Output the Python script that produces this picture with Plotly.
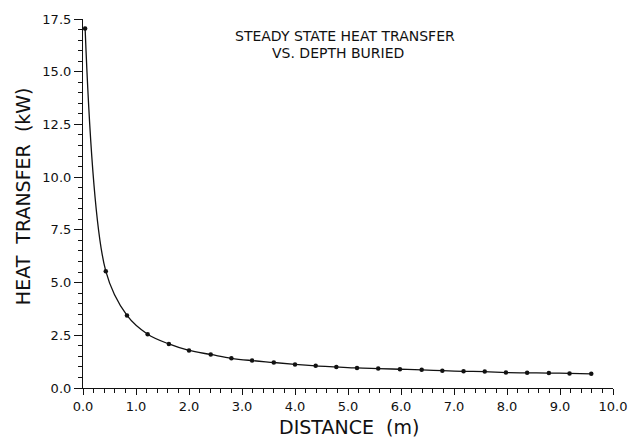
import plotly.graph_objects as go

# Data (distance in m, heat transfer in kW)
distance = [0.04, 0.43, 0.83, 1.22, 1.62, 2.00, 2.41, 2.80, 3.19, 3.60, 4.00, 4.39,
            4.78, 5.17, 5.57, 5.98, 6.39, 6.78, 7.18, 7.58, 7.98, 8.38, 8.79, 9.18, 9.59]
heat_kw = [17.05, 5.54, 3.44, 2.55, 2.09, 1.78, 1.59, 1.41, 1.30, 1.21, 1.12, 1.05,
           1.00, 0.95, 0.92, 0.89, 0.86, 0.82, 0.79, 0.78, 0.73, 0.72, 0.71, 0.69, 0.67]

x_ticks = [0, 1, 2, 3, 4, 5, 6, 7, 8, 9, 10]
y_ticks = [0, 2.5, 5, 7.5, 10, 12.5, 15, 17.5]

title_line1 = "STEADY STATE HEAT TRANSFER"
title_line2 = "VS. DEPTH BURIED"
x_title = "DISTANCE\u00a0\u00a0(m)"
y_title = "HEAT\u00a0\u00a0TRANSFER\u00a0\u00a0(kW)"

FONT = "DejaVu Sans"
INK = "#111111"

fig = go.Figure()
fig.add_trace(go.Scatter(
    x=distance, y=heat_kw, mode="lines+markers",
    line=dict(color=INK, width=1.3, shape="spline", smoothing=1.0),
    marker=dict(color=INK, size=4.5, symbol="circle"),
    showlegend=False, hoverinfo="x+y",
))

axis_common = dict(
    showgrid=False, zeroline=False, showline=True, linecolor=INK, linewidth=1.2,
    ticks="outside", tickwidth=1.2, tickcolor=INK,
    tickfont=dict(family=FONT, size=13, color=INK), tickformat=".1f",
    ticklabeloverflow="allow",
)

fig.update_xaxes(range=[0, 10], tickmode="array", tickvals=x_ticks, ticklen=6,
                 minor=dict(dtick=0.2, ticks="outside", ticklen=4, tickwidth=1, tickcolor=INK),
                 **axis_common)
fig.update_yaxes(range=[0, 17.5], tickmode="array", tickvals=y_ticks, ticklen=8,
                 minor=dict(dtick=0.5, ticks="outside", ticklen=4, tickwidth=1, tickcolor=INK),
                 **axis_common)

fig.update_layout(
    width=639, height=442,
    margin=dict(l=83, r=22, t=16, b=54),
    paper_bgcolor="white", plot_bgcolor="white",
    font=dict(family=FONT, color=INK),
    annotations=[
        dict(text=title_line1, x=0.495, y=0.954, xref="paper", yref="paper",
             showarrow=False, xanchor="center", yanchor="middle",
             font=dict(family=FONT, size=14, color=INK)),
        dict(text=title_line2, x=0.481, y=0.909, xref="paper", yref="paper",
             showarrow=False, xanchor="center", yanchor="middle",
             font=dict(family=FONT, size=14, color=INK)),
        dict(text=x_title, x=0.502, y=-0.105, xref="paper", yref="paper",
             showarrow=False, xanchor="center", yanchor="middle",
             font=dict(family=FONT, size=19, color=INK)),
        dict(text=y_title, x=-0.112, y=0.519, xref="paper", yref="paper",
             showarrow=False, xanchor="center", yanchor="middle", textangle=-90,
             font=dict(family=FONT, size=19, color=INK)),
    ],
)

# Remove the browser's default 8px body margin so the figure sits at the page corner.
fig.write_html("out.html",
               config={"displayModeBar": False},
               post_script="document.body.style.margin='0';document.body.style.overflow='hidden';")
